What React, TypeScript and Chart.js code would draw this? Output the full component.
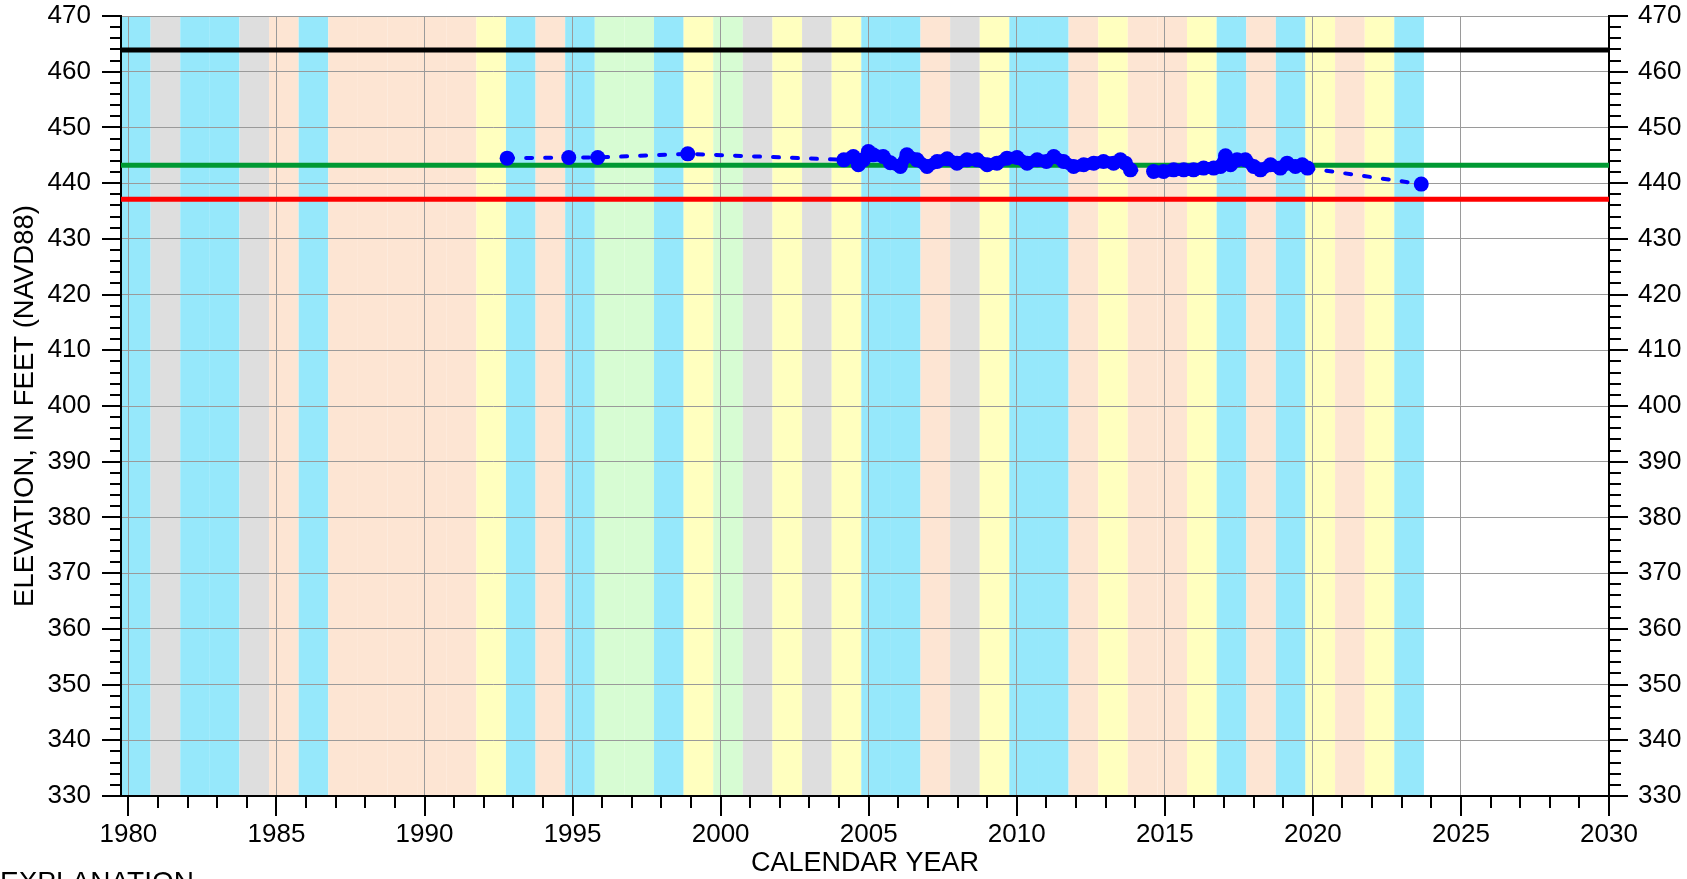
import React, { useEffect, useRef } from 'react';
import { Chart, registerables } from 'chart.js';

Chart.register(...registerables);

// ---- Axis ranges and tick labels ----
const X_MIN = 1979.75;
const X_MAX = 2030;
const Y_MIN = 330;
const Y_MAX = 470;
const xTickYears = [1980, 1985, 1990, 1995, 2000, 2005, 2010, 2015, 2020, 2025, 2030];
const yTickValues = [330, 340, 350, 360, 370, 380, 390, 400, 410, 420, 430, 440, 450, 460, 470];

// ---- Reference levels (feet, NAVD88) ----
const blackLevel = 463.9;
const greenLevel = 443.2;
const redLevel = 437.1;

// ---- Water-year background classes (water year N spans Oct N-1 .. Sep N) ----
const bandWaterYears = [
  1980, 1981, 1982, 1983, 1984, 1985, 1986, 1987, 1988, 1989, 1990, 1991, 1992, 1993, 1994,
  1995, 1996, 1997, 1998, 1999, 2000, 2001, 2002, 2003, 2004, 2005, 2006, 2007, 2008, 2009,
  2010, 2011, 2012, 2013, 2014, 2015, 2016, 2017, 2018, 2019, 2020, 2021, 2022, 2023,
];
const bandClasses = [
  'C', 'G', 'C', 'C', 'G', 'P', 'C', 'P', 'P', 'P', 'P', 'P', 'Y', 'C', 'P',
  'C', 'W', 'W', 'C', 'Y', 'W', 'G', 'Y', 'G', 'Y', 'C', 'C', 'P', 'G', 'Y',
  'C', 'C', 'P', 'Y', 'P', 'P', 'Y', 'C', 'P', 'C', 'Y', 'P', 'Y', 'C',
];
const bandColors: Record<string, string> = {
  C: '#96e8fb',
  G: '#dedede',
  P: '#fde5d3',
  Y: '#ffffbf',
  W: '#d7fcd3',
};

// ---- Groundwater level measurements ----
const measYears = [
  1992.79, 1994.87, 1995.85, 1998.89,
  2004.16, 2004.48, 2004.65, 2004.82, 2004.99, 2005.15, 2005.49, 2005.73, 2006.07, 2006.29,
  2006.63, 2006.97, 2007.31, 2007.65, 2007.98, 2008.32, 2008.66, 2009.0, 2009.33, 2009.67,
  2010.01, 2010.35, 2010.69, 2011.0, 2011.25, 2011.58, 2011.92, 2012.26, 2012.6, 2012.93,
  2013.27, 2013.5, 2013.67, 2013.84,
  2014.62, 2014.96, 2015.3, 2015.64, 2015.97, 2016.31, 2016.65, 2016.88, 2017.05, 2017.22,
  2017.44, 2017.72, 2018.0, 2018.23, 2018.57, 2018.9, 2019.13, 2019.41, 2019.64, 2019.82,
  2023.66,
];
const measElev = [
  444.49, 444.6, 444.6, 445.26,
  444.18, 444.78, 443.29, 444.18, 445.67, 445.08, 444.78, 443.65, 442.98, 445.08,
  444.18, 442.98, 443.88, 444.36, 443.59, 444.18, 444.18, 443.29, 443.59, 444.49,
  444.6, 443.59, 444.18, 443.88, 444.78, 443.88, 442.98, 443.29, 443.59, 443.88,
  443.59, 444.18, 443.59, 442.39,
  442.09, 442.09, 442.39, 442.39, 442.39, 442.7, 442.7, 442.98, 444.9, 443.29,
  444.18, 444.18, 442.98, 442.39, 443.29, 442.7, 443.59, 442.98, 443.29, 442.7,
  439.83,
];

const FONT_FAMILY = '"Liberation Sans", Arial, Helvetica, sans-serif';

export default function App() {
  const canvasRef = useRef<HTMLCanvasElement | null>(null);

  useEffect(() => {
    document.body.style.margin = '0';
    const canvas = canvasRef.current;
    if (!canvas) return;

    const bandPlugin = {
      id: 'bands',
      beforeDraw(chart: any) {
        const { ctx, chartArea } = chart;
        const xs = chart.scales.x;
        ctx.save();
        for (let i = 0; i < bandWaterYears.length; i++) {
          const x0 = xs.getPixelForValue(bandWaterYears[i] - 0.25);
          const x1 = xs.getPixelForValue(bandWaterYears[i] + 0.75);
          ctx.fillStyle = bandColors[bandClasses[i]];
          ctx.fillRect(x0, chartArea.top, x1 - x0, chartArea.bottom - chartArea.top);
        }
        ctx.restore();
      },
    };

    const decorPlugin = {
      id: 'decor',
      afterDraw(chart: any) {
        const { ctx, chartArea } = chart;
        const xs = chart.scales.x;
        const ys = chart.scales.y;
        const { left, right, top, bottom } = chartArea;
        ctx.save();
        ctx.strokeStyle = '#000';
        ctx.lineWidth = 2;
        ctx.beginPath();
        for (let yr = Math.ceil(X_MIN); yr <= X_MAX; yr++) {
          const px = Math.round(xs.getPixelForValue(yr));
          const len = yr % 5 === 0 ? 20 : 12;
          ctx.moveTo(px, bottom);
          ctx.lineTo(px, bottom + len);
        }
        for (let v = Y_MIN; v <= Y_MAX; v += 2) {
          const py = Math.round(ys.getPixelForValue(v));
          const major = v % 10 === 0;
          ctx.moveTo(left - (major ? 19 : 11), py);
          ctx.lineTo(left, py);
          ctx.moveTo(right, py);
          ctx.lineTo(right + (major ? 19 : 12), py);
        }
        ctx.stroke();

        ctx.fillStyle = '#000';
        ctx.textAlign = 'center';
        ctx.textBaseline = 'middle';
        ctx.font = `27px ${FONT_FAMILY}`;
        ctx.fillText('CALENDAR YEAR', (left + right) / 2, 864);

        ctx.save();
        ctx.translate(25, (top + bottom) / 2);
        ctx.rotate(-Math.PI / 2);
        ctx.font = `27.5px ${FONT_FAMILY}`;
        ctx.fillText('ELEVATION, IN FEET (NAVD88)', 0, 0);
        ctx.restore();

        ctx.textAlign = 'left';
        ctx.textBaseline = 'alphabetic';
        ctx.font = `28px ${FONT_FAMILY}`;
        ctx.fillText('EXPLANATION', 0, 891);
        ctx.restore();
      },
    };

    const tickFont = { family: FONT_FAMILY, size: 26 };
    const gridColor = '#9a9a9a';

    const refLine = (v: number, color: string) => ({
      data: [
        { x: X_MIN, y: v },
        { x: X_MAX, y: v },
      ],
      borderColor: color,
      borderWidth: 5,
      pointRadius: 0,
      tension: 0,
      order: 1,
      yAxisID: 'y',
    });

    const noVertPad = (s: any, width: number) => {
      s.width = width;
      s.paddingTop = 0;
      s.paddingBottom = 0;
    };

    const isGap = (c: any) => c.p1.parsed.x - c.p0.parsed.x > 0.5;

    const chart = new Chart(canvas, {
      type: 'line',
      data: {
        datasets: [
          {
            data: measYears.map((x, i) => ({ x, y: measElev[i] })),
            borderColor: '#0000ff',
            backgroundColor: '#0000ff',
            borderWidth: 12,
            borderCapStyle: 'round',
            borderJoinStyle: 'round',
            pointRadius: 7.5,
            pointBorderWidth: 0,
            pointBackgroundColor: '#0000ff',
            tension: 0,
            order: 0,
            yAxisID: 'y',
            segment: {
              borderDash: (c: any) => (isGap(c) ? [6, 13] : undefined),
              borderWidth: (c: any) => (isGap(c) ? 4 : undefined),
            },
          } as any,
          refLine(blackLevel, '#000000'),
          refLine(greenLevel, '#009933'),
          refLine(redLevel, '#ff0000'),
        ],
      },
      options: {
        responsive: false,
        animation: false,
        events: [],
        layout: { padding: { top: 16, left: 0, right: 0, bottom: 0 } },
        plugins: { legend: { display: false }, tooltip: { enabled: false } },
        scales: {
          x: {
            type: 'linear',
            min: X_MIN,
            max: X_MAX,
            afterBuildTicks: (s: any) => {
              s.ticks = xTickYears.map((v) => ({ value: v }));
            },
            afterFit: (s: any) => {
              s.height = 83;
              s.paddingLeft = 0;
              s.paddingRight = 0;
            },
            grid: { color: gridColor, lineWidth: 1, drawTicks: false },
            border: { display: true, color: '#000', width: 2 },
            ticks: {
              padding: 23,
              font: tickFont,
              color: '#000',
              maxRotation: 0,
              autoSkip: false,
              callback: (v: any) => String(v),
            },
          },
          y: {
            type: 'linear',
            position: 'left',
            min: Y_MIN,
            max: Y_MAX,
            afterBuildTicks: (s: any) => {
              s.ticks = yTickValues.map((v) => ({ value: v }));
            },
            afterFit: (s: any) => noVertPad(s, 121),
            grid: { color: gridColor, lineWidth: 1, drawTicks: false },
            border: { display: true, color: '#000', width: 2 },
            ticks: { padding: 30, font: tickFont, color: '#000', callback: (v: any) => String(v) },
          },
          y2: {
            type: 'linear',
            position: 'right',
            min: Y_MIN,
            max: Y_MAX,
            afterBuildTicks: (s: any) => {
              s.ticks = yTickValues.map((v) => ({ value: v }));
            },
            afterFit: (s: any) => noVertPad(s, 78),
            grid: { drawOnChartArea: false, drawTicks: false },
            border: { display: true, color: '#000', width: 2 },
            ticks: { padding: 29, font: tickFont, color: '#000', callback: (v: any) => String(v) },
          },
        },
      } as any,
      plugins: [bandPlugin, decorPlugin],
    });

    return () => chart.destroy();
  }, []);

  return (
    <div style={{ position: 'absolute', left: 0, top: 0, width: 1687, height: 879, background: '#fff' }}>
      <canvas ref={canvasRef} width={1687} height={879} style={{ display: 'block', width: 1687, height: 879 }} />
    </div>
  );
}
